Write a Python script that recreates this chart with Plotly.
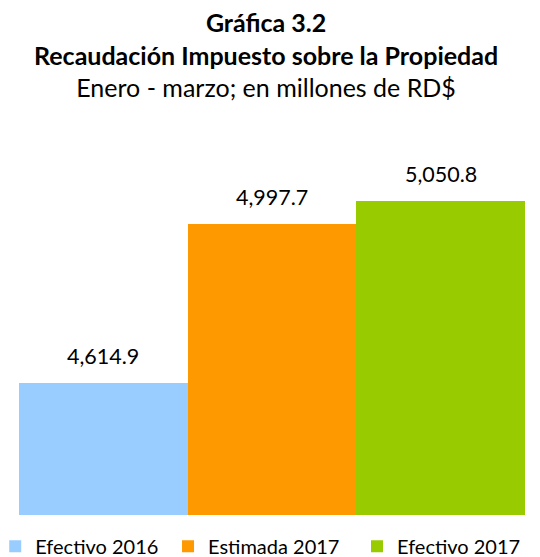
import plotly.graph_objects as go

categories = ["Efectivo 2016", "Estimada 2017", "Efectivo 2017"]
values = [4614.9, 4997.7, 5050.8]
colors = ["#99CCFF", "#FF9900", "#99CC00"]
title_lines = ["<b>Gráfica 3.2</b>",
               "<b>Recaudación Impuesto sobre la Propiedad</b>",
               "Enero - marzo; en millones de RD$"]

FONT = "Lato"
# una leyenda por serie para colocarlas como en el original
legend_ids = ["legend", "legend2", "legend3"]
legend_x = [-0.047, 0.2945, 0.668]

fig = go.Figure()
for cat, val, col, lg in zip(categories, values, colors, legend_ids):
    fig.add_trace(go.Bar(
        x=[cat], y=[val], name=cat, legend=lg,
        marker=dict(color=col, line=dict(width=0)),
    ))
    # etiqueta de valor sobre cada barra
    fig.add_annotation(
        x=cat, y=val, text=f"{val:,.1f}", showarrow=False,
        yanchor="bottom", yshift=12,
        font=dict(size=21.5, family=FONT, color="#000000"),
    )

# titulo en tres lineas
fig.add_annotation(
    x=0.488, xref="paper", y=1.093, yref="paper", text="<br>".join(title_lines),
    showarrow=False, yanchor="bottom", xanchor="center", align="center",
    font=dict(size=25, family=FONT, color="#000000"),
)

legend_style = dict(
    orientation="h", xanchor="left", y=-0.031, yanchor="top",
    font=dict(size=20, family=FONT, color="#000000"),
    itemwidth=30, bgcolor="rgba(0,0,0,0)",
)

fig.update_layout(
    width=540, height=557,
    margin=dict(l=11, r=23, t=131, b=50, autoexpand=False),
    paper_bgcolor="white", plot_bgcolor="white",
    barmode="relative", bargap=0,
    font=dict(family=FONT, color="#000000"),
    xaxis=dict(visible=False, range=[-0.5, 2.5]),
    yaxis=dict(visible=False, range=[4300, 5200]),
    legend=dict(x=legend_x[0], **legend_style),
    legend2=dict(x=legend_x[1], **legend_style),
    legend3=dict(x=legend_x[2], **legend_style),
    showlegend=True,
)

fig.write_html("out.html")
